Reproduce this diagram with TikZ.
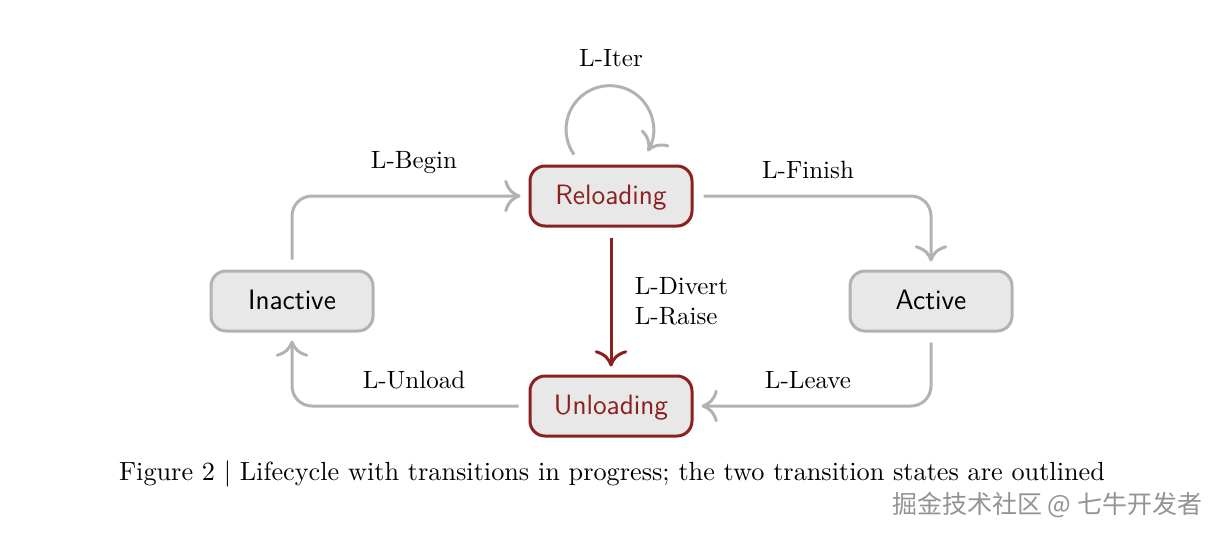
\documentclass[tikz,border=0pt]{standalone}
\usepackage{fontspec}
\newfontfamily\cjk{Noto Sans CJK SC}
\usetikzlibrary{arrows.meta}
\definecolor{dred}{RGB}{140,32,30}
\definecolor{lgray}{RGB}{178,178,178}
\definecolor{nfill}{RGB}{232,232,232}
\tikzset{
  state/.style={draw=lgray, line width=1.2pt, fill=nfill, rounded corners=6pt,
    minimum width=64.8pt, minimum height=24pt, text depth=0.2ex, font=\sffamily\fontsize{11.2}{13}\selectfont, text=black},
  trans/.style={state, draw=dred, text=dred},
  tip/.style={-{Computer Modern Rightarrow[length=6.5pt,width=13pt,line width=1.2pt]}},
  garrow/.style={tip, draw=lgray, line width=1.2pt, rounded corners=8pt, shorten <=4pt, shorten >=3.2pt},
  rarrow/.style={tip, draw=dred, line width=1.2pt, shorten <=4pt, shorten >=3.2pt},
  lbl/.style={font=\fontsize{10}{12}\selectfont, text=black}
}
\begin{document}
\begin{tikzpicture}[x=0.4pt,y=-0.4pt]
\useasboundingbox (0,0) rectangle (1228,536);
\node[trans] (rel) at (611,196) {Reloading};
\node[trans] (unl) at (611,406) {Unloading};
\node[state] (ina) at (292,301) {Inactive};
\node[state] (act) at (931,301) {Active};

\draw[garrow] (ina.north) |- (rel.west);
\draw[garrow] (rel.east) -| (act.north);
\draw[garrow] (act.south) |- (unl.east);
\draw[garrow] (unl.west) -| (ina.south);
\draw[rarrow] (rel.south) -- (unl.north);
\draw[tip, draw=lgray, line width=1.2pt] ([xshift=-14.8pt,yshift=4pt]rel.north) arc[start angle=215, end angle=-30, radius=17.5pt];

\node[lbl] (lbegin) at (414,163) {L-Begin};
\node[lbl] (lfinish) at (808,170) {L-Finish};
\node[lbl] (lunload) at (414,380) {L-Unload};
\node[lbl] (lleave) at (808,380) {L-Leave};
\node[lbl] (liter) at (611,58) {L-Iter};
\node[lbl, anchor=west, align=left] (ldiv) at (626,301) {L-Divert\\L-Raise};

\node[font=\fontsize{10.5}{12}\selectfont] (cap) at (612,474) {Figure 2 | Lifecycle with transitions in progress; the two transition states are outlined};
\node[font=\cjk\fontsize{10}{11}\selectfont, text=gray!85, anchor=east] (wm) at (1211,505) {掘金技术社区 @ 七牛开发者};
\end{tikzpicture}
\end{document}
